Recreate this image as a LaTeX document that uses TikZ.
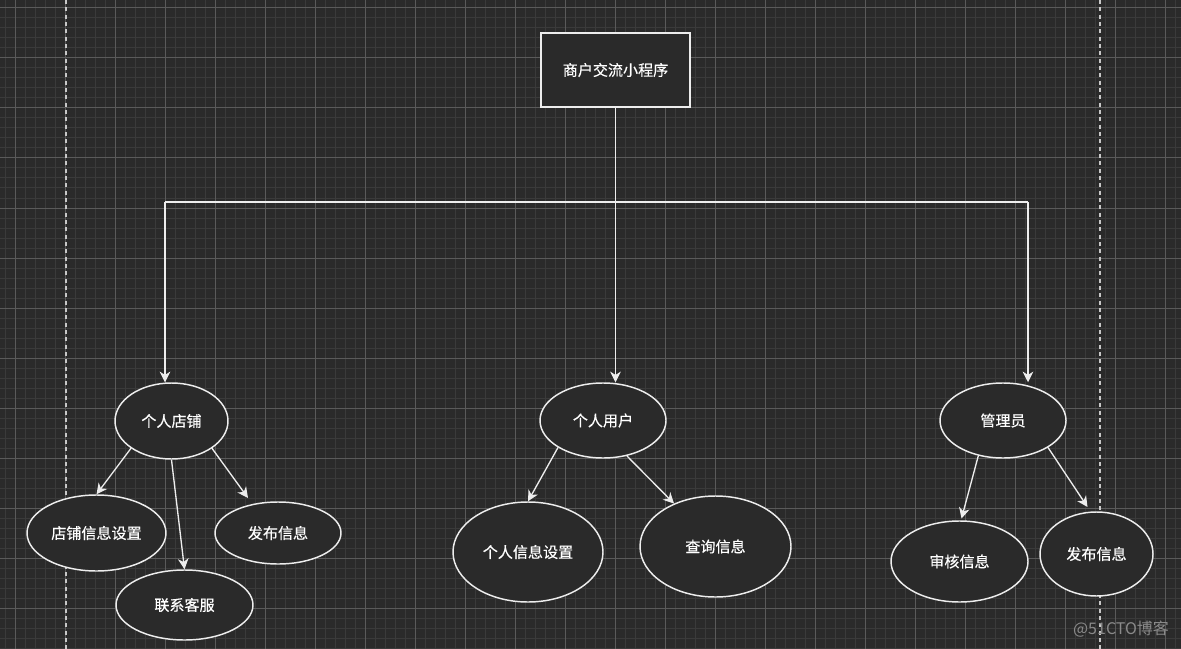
\documentclass[tikz,border=0pt]{standalone}
\usepackage{fontspec}
\newfontfamily\cjk[FakeBold=0.4]{Noto Sans CJK SC}
\newfontfamily\cjkwm{Noto Sans CJK SC}
\usetikzlibrary{shapes.geometric,arrows.meta,calc}
\definecolor{bg}{HTML}{2A2A2A}
\definecolor{minorg}{HTML}{3A3A3A}
\definecolor{majorg}{HTML}{5A5A5A}
\definecolor{linec}{HTML}{EDEDED}
\definecolor{dashc}{HTML}{C8C8C8}
\definecolor{wmark}{HTML}{8A8A8A}
\begin{document}
\begin{tikzpicture}[x=0.75pt,y=-0.75pt,
  sz/.style 2 args={minimum width=#1*0.75pt,minimum height=#2*0.75pt},
  lbl/.style={text=white,font=\cjk\fontsize{11.3}{13}\selectfont},
  oval/.style={ellipse,draw=linec,line width=1.1pt,fill=bg,inner sep=0pt,lbl},
  box/.style={rectangle,draw=linec,line width=1.1pt,fill=bg,inner sep=0pt,lbl},
  trunk/.style={draw=linec,line width=1.4pt},
  arr/.style={draw=linec,line width=1pt,-{Stealth[length=8pt,width=8pt,inset=2.5pt]}},
  guide/.style={draw=dashc,line width=0.8pt,dash pattern=on 3pt off 2.5pt}]
\useasboundingbox (0,0) rectangle (1181,649);
\fill[bg] (0,0) rectangle (1181,649);
% grid
\foreach \x in {5,15,...,1175} \draw[minorg,line width=0.75pt] (\x,0) -- (\x,649);
\foreach \y in {8,18,...,648} \draw[minorg,line width=0.75pt] (0,\y) -- (1181,\y);
\foreach \x in {15,65,...,1165} \draw[majorg,line width=0.75pt] (\x,0) -- (\x,649);
\foreach \y in {8,58,...,608} \draw[majorg,line width=0.75pt] (0,\y) -- (1181,\y);
% guide lines
\draw[guide] (66,0) -- (66,649);
\draw[guide] (1100,0) -- (1100,649);
% nodes
\node[box,sz={149}{74}] (top) at (615.5,70) {商户交流小程序};
\node[oval,sz={113}{76}] (shop) at (171.5,421) {个人店铺};
\node[oval,sz={126}{75}] (user) at (603,420.5) {个人用户};
\node[oval,sz={126}{75}] (admin) at (1003,420.5) {管理员};
\node[oval,sz={139}{76}] (info) at (96.5,533) {店铺信息设置};
\node[oval,sz={126}{62}] (pub1) at (278,533) {发布信息};
\node[oval,sz={137}{70}] (kefu) at (184.5,605) {联系客服};
\node[oval,sz={150}{100}] (pinfo) at (528,552) {个人信息设置};
\node[oval,sz={151}{101}] (query) at (715.5,546.5) {查询信息};
\node[oval,sz={137}{81}] (audit) at (959.5,561.5) {审核信息};
\node[oval,sz={113}{84}] (pub2) at (1096.5,554) {发布信息};
% trunk
\coordinate (jL) at (165,202);
\coordinate (jR) at (1028,202);
\coordinate (jM) at (top.south |- jL);
\draw[trunk] (top.south) -- (jM);
\draw[trunk] (jL) -- (jR);
\draw[arr] (jL) -- (jL |- shop.north);
\draw[arr] (jM) -- (jM |- user.north);
\draw[arr] (jR) -- (jR |- admin.north);
% children
\draw[arr] (shop.214) -- (info.north);
\draw[arr] (shop.south) -- (kefu.north);
\draw[arr] (shop.326) -- ($(pub1.center)+(-30,-35)$);
\draw[arr] (user.211) -- (pinfo.north);
\draw[arr] (user.304) -- (query.134);
\draw[arr] (admin.235) -- ($(audit.center)+(2,-43)$);
\draw[arr] (admin.329) -- ($(pub2.center)+(-9,-47)$);
% watermark
\node[text=wmark,font=\cjkwm\fontsize{12}{14}\selectfont,inner sep=0pt] (wm) at (1121,629) {@51CTO博客};
\end{tikzpicture}
\end{document}
